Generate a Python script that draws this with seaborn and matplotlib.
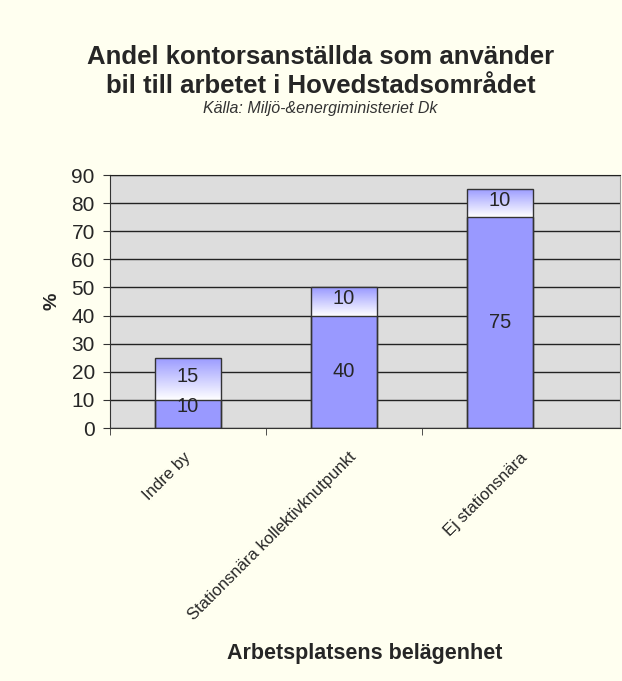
import numpy as np
import matplotlib
matplotlib.use('Agg')
import matplotlib.pyplot as plt
import matplotlib.transforms as mtransforms
from matplotlib.colors import LinearSegmentedColormap
import seaborn as sns

kategorier = ['Indre by', 'Stationsnära kollektivknutpunkt', 'Ej stationsnära']
bas = [10, 40, 75]
topp = [15, 10, 10]
totalt = [b + t for b, t in zip(bas, topp)]

bla = '#9999FF'
kant = '#333333'

sns.set_style('white', {'axes.facecolor': '#DDDDDD', 'figure.facecolor': '#FFFFF0'})
plt.rcParams['font.family'] = ['Liberation Sans', 'DejaVu Sans']

fig = plt.figure(figsize=(6.22, 6.81), dpi=100)
ax = fig.add_axes([0.177, 0.3715, 0.82, 0.3715])

# hela stapeln (bara kant), gradient fylls i efteråt
sns.barplot(x=kategorier, y=totalt, color='white', width=0.42,
            edgecolor=kant, linewidth=1, ax=ax, zorder=2)
gradient = LinearSegmentedColormap.from_list('grad', ['white', bla])
for p, b in zip(ax.patches, bas):
    x0 = p.get_x()
    w = p.get_width()
    im = ax.imshow(np.linspace(1, 0, 100).reshape(-1, 1), cmap=gradient,
                   aspect='auto', extent=[x0, x0 + w, b, p.get_height()],
                   origin='upper', zorder=2.5, vmin=0, vmax=1)
    im.set_clip_path(p)

n = len(ax.patches)
sns.barplot(x=kategorier, y=bas, color=bla, saturation=1, width=0.42,
            edgecolor=kant, linewidth=1, ax=ax, zorder=3)
for p in ax.patches[n:]:
    p.set_facecolor(bla)
# kant runt hela stapeln ovanpå gradienten
for p in ax.patches[:n]:
    p.set_zorder(4)
    p.set_facecolor('none')

for i, (b, t) in enumerate(zip(bas, topp)):
    yb = b / 2 if b > 15 else b * 0.75
    ax.text(i, yb, str(b), ha='center', va='center', fontsize=14.5, zorder=5)
    ax.text(i, b + t / 2 + 1, str(t), ha='center', va='center', fontsize=14.5, zorder=5)

ax.set_ylim(0, 90)
ax.set_xlim(-0.5, 2.77)
ax.set_yticks(range(0, 91, 10))
ax.yaxis.grid(True, color='#222222', linewidth=1)
ax.set_axisbelow(True)
ax.tick_params(axis='y', left=True, length=5, color=kant, labelsize=15, pad=6)
ax.set_xticks([0, 1, 2])
ax.set_xticks([-0.5, 0.5, 1.5], minor=True)
ax.tick_params(axis='x', which='major', bottom=False, pad=16)
ax.tick_params(axis='x', which='minor', bottom=True, length=5, color=kant)
ax.set_xticklabels(kategorier, rotation=45, ha='right', va='center',
                   rotation_mode='anchor', fontsize=12)
# Excel-liknande förskjutning av de lutande etiketterna
for lbl, dx in zip(ax.get_xticklabels(), [0, 10, 25]):
    lbl.set_transform(lbl.get_transform() +
                      mtransforms.ScaledTranslation(dx / 100, 0, fig.dpi_scale_trans))
for s in ['left', 'bottom']:
    ax.spines[s].set_color(kant)
ax.spines['top'].set_color('#222222')
ax.spines['right'].set_color('#999999')

ax.set_ylabel('%', fontsize=14, fontweight='bold', labelpad=8)
ax.set_xlabel('Arbetsplatsens belägenhet', fontsize=15.5, fontweight='bold')
ax.xaxis.set_label_coords(0.5, -0.85)

fig.text(0.515, 0.895, 'Andel kontorsanställda som använder\nbil till arbetet i Hovedstadsområdet',
         ha='center', va='center', fontsize=18.5, fontweight='bold', linespacing=1.25)
fig.text(0.515, 0.841, 'Källa: Miljö-&energiministeriet Dk', ha='center', va='center',
         fontsize=11.5, style='italic', color='#333333')

fig.savefig('out.png', dpi=100, facecolor=fig.get_facecolor())
